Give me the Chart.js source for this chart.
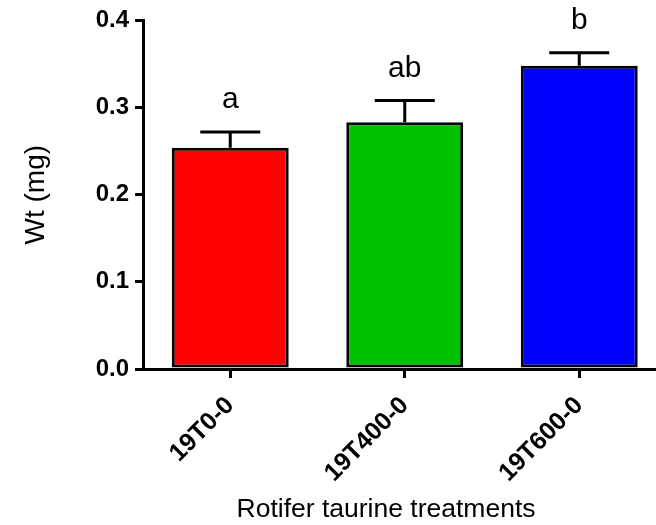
<!DOCTYPE html>
<html>
<head>
<meta charset="utf-8">
<script src="https://cdn.jsdelivr.net/npm/chart.js@4"></script>
<style>
  html,body{margin:0;padding:0;background:#fff;overflow:hidden;}
  #wrap{width:656px;height:525px;overflow:hidden;}
</style>
</head>
<body>
<div id="wrap"><canvas id="chartWt" width="680" height="525"></canvas></div>
<script>
// data
const categories = ['19T0-0', '19T400-0', '19T600-0'];
const means = [0.254, 0.283, 0.348];
const errors = [0.018, 0.025, 0.015];
const letters = ['a', 'ab', 'b'];
const barColors = ['#FF0000', '#00C000', '#0000FF'];
const yTicks = [0, 0.1, 0.2, 0.3, 0.4];

const FONT = 'Arial, "Liberation Sans", sans-serif';

// upper error bars + significance letters
const errPlugin = {
  id: 'errPlugin',
  afterDatasetsDraw(chart){
    const ctx = chart.ctx, xs = chart.scales.x, ys = chart.scales.y;
    ctx.save();
    ctx.strokeStyle = '#000'; ctx.lineWidth = 3; ctx.lineCap = 'butt';
    means.forEach((m,i)=>{
      const x = xs.getPixelForValue(i);
      const yTop = ys.getPixelForValue(m + errors[i]);
      const yBar = ys.getPixelForValue(m);
      ctx.beginPath();
      ctx.moveTo(x, yBar); ctx.lineTo(x, yTop);
      ctx.moveTo(x-30, yTop); ctx.lineTo(x+30, yTop);
      ctx.stroke();
      ctx.fillStyle = '#000';
      ctx.font = '30px ' + FONT;
      ctx.textAlign = 'center'; ctx.textBaseline = 'alphabetic';
      ctx.fillText(letters[i], x, yTop - 24);
    });
    // x axis title (sits left of chart-area centre in the original)
    ctx.font = '26.5px ' + FONT;
    ctx.textAlign = 'center';
    ctx.fillText('Rotifer taurine treatments', 386, 517);
    ctx.restore();
  }
};

new Chart(document.getElementById('chartWt'), {
  type: 'bar',
  data: {
    labels: categories,
    datasets: [{
      data: means,
      backgroundColor: barColors,
      borderColor: '#000',
      borderWidth: 3,
      borderSkipped: false,
      barPercentage: 0.67,
      categoryPercentage: 1
    }]
  },
  options: {
    responsive: false,
    devicePixelRatio: 1,
    animation: false,
    layout: { padding: { left: 0, top: 20, right: 13.5, bottom: 0 } },
    plugins: { legend: { display: false }, tooltip: { enabled: false } },
    scales: {
      x: {
        grid: { offset: false, drawOnChartArea: false, color: '#000', lineWidth: 3, tickLength: 9 },
        border: { color: '#000', width: 3 },
        ticks: {
          color: '#000', autoSkip: false, minRotation: 45, maxRotation: 45, padding: 13,
          font: { family: FONT, size: 25, weight: 'bold' }
        },
        afterFit(s){ s.height = 156; }
      },
      y: {
        min: 0, max: 0.4,
        afterBuildTicks(s){ s.ticks = yTicks.map(v=>({value:v})); },
        grid: { drawOnChartArea: false, color: '#000', lineWidth: 3, tickLength: 8 },
        border: { color: '#000', width: 3 },
        ticks: {
          color: '#000', padding: 6,
          font: { family: FONT, size: 24, weight: 'bold' },
          callback: v => v.toFixed(1)
        },
        title: {
          display: true, text: 'Wt (mg)', color: '#000',
          font: { family: FONT, size: 28 }, padding: { top: 19, bottom: 0 }
        },
        afterFit(s){ s.width = 143; }
      }
    }
  },
  plugins: [errPlugin]
});
</script>
</body>
</html>
